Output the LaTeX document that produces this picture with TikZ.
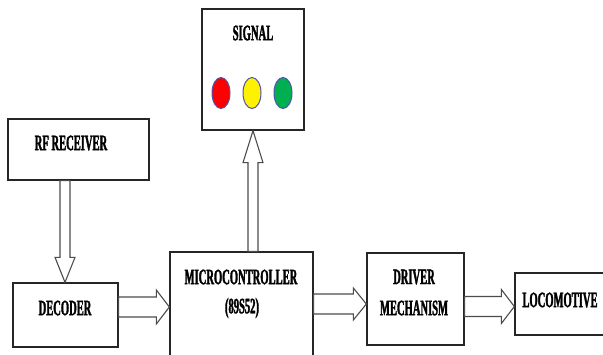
\documentclass[tikz,border=0pt]{standalone}
\usepackage{fontspec}
\newfontfamily\cond[FakeStretch=0.48,FakeBold=1.5]{Liberation Serif}
\usetikzlibrary{calc,shapes.geometric}
\tikzset{
  box/.style={draw=black!85, line width=1.3pt, fill=white, rectangle, inner sep=0pt},
  lbl/.style={font=\cond\bfseries\fontsize{22}{22}\selectfont, inner sep=0pt, anchor=center},
  barrow/.style={draw=gray!60!black, line width=1.1pt, fill=white, line join=miter},
  lamp/.style={ellipse, draw=blue!35!gray, line width=1pt, minimum width=18pt, minimum height=31pt, inner sep=0pt}
}
\newcommand\harr[5]{%
  \draw[barrow] let \p1=(#1), \p2=(#2) in
   (\x1,-#3pt+#4pt) -- (\x2-13pt,-#3pt+#4pt) -- (\x2-13pt,-#3pt+#5pt) -- (\x2,-#3pt)
   -- (\x2-13pt,-#3pt-#5pt) -- (\x2-13pt,-#3pt-#4pt) -- (\x1,-#3pt-#4pt) -- cycle;}
\newcommand\downarr[6]{%
  \draw[barrow] let \p1=(#1), \p2=(#2) in
   (#3pt-#4pt,\y1) -- (#3pt-#4pt,\y2+#6pt) -- (#3pt-#5pt,\y2+#6pt) -- (#3pt,\y2)
   -- (#3pt+#5pt,\y2+#6pt) -- (#3pt+#4pt,\y2+#6pt) -- (#3pt+#4pt,\y1) -- cycle;}
\newcommand\uparr[6]{%
  \draw[barrow] let \p1=(#1), \p2=(#2) in
   (#3pt-#4pt,\y1) -- (#3pt-#4pt,\y2-#6pt) -- (#3pt-#5pt,\y2-#6pt) -- (#3pt,\y2)
   -- (#3pt+#5pt,\y2-#6pt) -- (#3pt+#4pt,\y2-#6pt) -- (#3pt+#4pt,\y1) -- cycle;}
\begin{document}
\begin{tikzpicture}[x=1pt,y=-1pt]
\clip (0,0) rectangle (603,354);
\fill[white] (0,0) rectangle (603,354);
% boxes
\node[box, minimum width=141pt, minimum height=61pt] (rf) at (78.5,149.5) {};
\node[lbl] (rft) at (71,143) {RF RECEIVER};
\node[box, minimum width=105pt, minimum height=64pt] (dec) at (65.5,315) {};
\node[lbl] (dect) at (65,308) {DECODER};
\node[box, minimum width=143pt, minimum height=110pt] (mc) at (241.5,307) {};
\node[lbl] (mct1) at (241,277) {MICROCONTROLLER};
\node[lbl] (mct2) at (242,308) {(89S52)};
\node[box, minimum width=102pt, minimum height=121pt] (sig) at (253,69.5) {};
\node[lbl] (sigt) at (253,33) {SIGNAL};
\node[lamp, fill=red] (red) at (221,93) {};
\node[lamp, fill=yellow] (yel) at (252,93) {};
\node[lamp, fill={rgb,255:red,0;green,176;blue,80}] (grn) at (283,93) {};
\node[box, minimum width=97pt, minimum height=92pt] (drv) at (415.5,299) {};
\node[lbl] (drvt1) at (414,277) {DRIVER};
\node[lbl] (drvt2) at (414,308) {MECHANISM};
\node[box, minimum width=105pt, minimum height=62pt] (loc) at (567.5,304) {};
\node[lbl] (loct) at (560,300) {LOCOMOTIVE};
% block arrows
\downarr{rf.south}{dec.north}{65}{5}{10}{25}
\uparr{mc.north}{sig.south}{253}{5}{10}{32}
\harr{dec.east}{mc.west}{307}{10}{17}
\harr{mc.east}{drv.west}{304}{10}{16}
\harr{drv.east}{loc.west}{306.5}{10}{17}
\end{tikzpicture}
\end{document}
